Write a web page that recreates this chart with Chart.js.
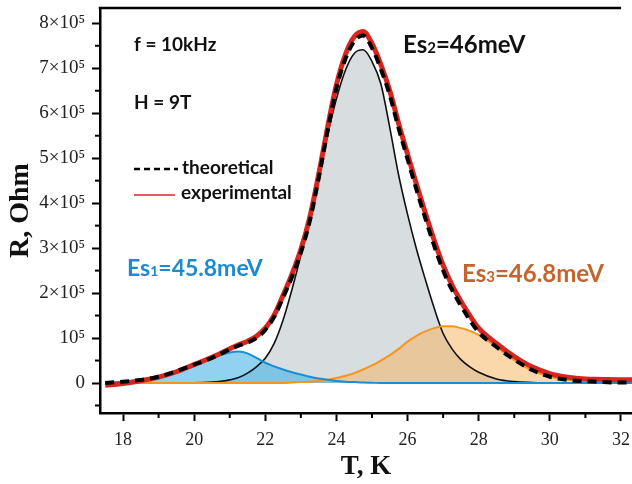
<!DOCTYPE html>
<html><head><meta charset="utf-8">
<script src="https://cdn.jsdelivr.net/npm/chart.js@4"></script>
<style>html,body{margin:0;padding:0;background:#fff}canvas{display:block}</style>
</head><body>
<canvas id="c" width="632" height="484"></canvas>
<script>
// Temperature grid, K
const temperatureK = [17.5,18,18.5,19,19.5,20,20.25,20.5,20.75,21,21.25,21.5,21.75,22,22.25,22.5,22.75,23,23.25,23.5,23.75,24,24.25,24.5,24.75,25,25.25,25.5,25.75,26,26.25,26.5,26.75,27,27.25,27.5,27.75,28,28.5,29,29.5,30,30.5,31,31.5,32,32.5];
// Resistance in units of 10^5 Ohm
const theoretical = [0.0,0.03,0.07,0.14,0.26,0.41,0.48,0.56,0.65,0.75,0.83,0.9,1.0,1.18,1.47,1.9,2.36,2.9,3.6,4.55,5.6,6.55,7.2,7.6,7.73,7.45,6.98,6.4,5.66,4.98,4.3,3.66,3.05,2.5,2.07,1.72,1.4,1.13,0.8,0.52,0.29,0.14,0.07,0.04,0.02,0.01,0.01];
const experimental = [-0.05,-0.01,0.05,0.13,0.25,0.41,0.49,0.57,0.66,0.76,0.85,0.93,1.04,1.22,1.51,1.95,2.42,2.97,3.68,4.63,5.68,6.63,7.3,7.7,7.82,7.55,7.08,6.5,5.77,5.09,4.42,3.78,3.17,2.62,2.18,1.82,1.5,1.22,0.88,0.59,0.36,0.21,0.13,0.09,0.08,0.07,0.07];
const es1Component = [0.005,0.03,0.07,0.14,0.25,0.4,0.47,0.55,0.62,0.68,0.70,0.66,0.56,0.45,0.37,0.30,0.24,0.19,0.14,0.10,0.07,0.045,0.03,0.02,0.01,0.005,0,0,0,0,0,0,0,0,0,0,0,0,0,0,0,0,0,0,0,0,0];
const es2Component = [0,0,0,0,0.002,0.005,0.01,0.02,0.04,0.07,0.12,0.22,0.36,0.55,0.88,1.4,2.08,2.84,3.7,4.61,5.51,6.32,6.95,7.33,7.41,7.15,6.65,5.68,4.62,3.75,2.98,2.3,1.66,1.1,0.76,0.52,0.36,0.24,0.09,0.03,0.01,0,0,0,0,0,0];
const es3Component = [0,0,0,0,0,0,0,0,0,0,0,0,0,0,0,0,0.01,0.02,0.03,0.045,0.07,0.11,0.16,0.22,0.30,0.39,0.50,0.62,0.76,0.92,1.05,1.15,1.22,1.26,1.26,1.22,1.16,1.07,0.8,0.51,0.28,0.14,0.07,0.04,0.02,0.01,0.01];
// Tick labels
const yTickValues = [0,1,2,3,4,5,6,7,8];
const yTickLabels = ['0','10\u2075','2\u00d710\u2075','3\u00d710\u2075','4\u00d710\u2075','5\u00d710\u2075','6\u00d710\u2075','7\u00d710\u2075','8\u00d710\u2075'];
const xMinorTicks = [19,21,23,25,27,29,31];
const yMinorTicks = [-0.5,0.5,1.5,2.5,3.5,4.5,5.5,6.5,7.5];
const seriesNames = ['theoretical','experimental','Es1=45.8meV','Es3=46.8meV','Es2=46meV'];

const pts = arr => temperatureK.map((t,i)=>({x:t,y:arr[i]}));
const SERIF = '"Liberation Serif","Times New Roman",serif';
const SANS = 'Lato, "Open Sans", sans-serif';

const extras = {
  id:'extras',
  afterDraw(chart){
    const ctx = chart.ctx, xs = chart.scales.x, ys = chart.scales.y, area = chart.chartArea;
    ctx.save();
    // top frame line
    ctx.strokeStyle = '#000'; ctx.lineWidth = 2.5;
    ctx.beginPath(); ctx.moveTo(area.left - 1.25, area.top); ctx.lineTo(xs.getPixelForValue(32), area.top); ctx.stroke();
    // minor ticks
    ctx.lineWidth = 2;
    xMinorTicks.forEach(v=>{const p=xs.getPixelForValue(v);ctx.beginPath();ctx.moveTo(p,xs.top);ctx.lineTo(p,xs.top+5);ctx.stroke();});
    yMinorTicks.forEach(v=>{const p=ys.getPixelForValue(v);ctx.beginPath();ctx.moveTo(ys.right,p);ctx.lineTo(ys.right-5,p);ctx.stroke();});
    // text annotations
    ctx.fillStyle = '#111';
    ctx.textBaseline = 'middle'; ctx.textAlign = 'left';
    ctx.font = 'bold 19px ' + SANS;
    ctx.fillText('f = 10kHz', 134, 45);
    ctx.fillText('H = 9T', 134, 103);
    ctx.fillText('theoretical', 182, 168);
    ctx.fillText('experimental', 181, 193);
    // legend samples
    ctx.strokeStyle = '#000'; ctx.lineWidth = 2.5; ctx.setLineDash([6,4]);
    ctx.beginPath(); ctx.moveTo(134,169); ctx.lineTo(178,169); ctx.stroke();
    ctx.setLineDash([]);
    ctx.strokeStyle = '#d0282a'; ctx.lineWidth = 1.5;
    ctx.beginPath(); ctx.moveTo(134,195); ctx.lineTo(175,195); ctx.stroke();
    // Es labels with subscripts
    const esLabel = (sub, rest, x, y, size, color) => {
      ctx.fillStyle = color; ctx.textBaseline = 'alphabetic';
      ctx.font = 'bold ' + size + 'px ' + SANS;
      ctx.fillText('Es', x, y); let w = ctx.measureText('Es').width;
      ctx.font = 'bold ' + Math.round(size*0.62) + 'px ' + SANS;
      ctx.fillText(sub, x+w, y); w += ctx.measureText(sub).width;
      ctx.font = 'bold ' + size + 'px ' + SANS;
      ctx.fillText(rest, x+w, y);
    };
    esLabel('2', '=46meV', 403, 53, 24, '#111');
    esLabel('1', '=45.8meV', 127, 276, 23, '#1a8ad2');
    esLabel('3', '=46.8meV', 462, 282, 24, '#c4642c');
    ctx.restore();
  }
};

new Chart(document.getElementById('c'), {
  type:'line',
  data:{datasets:[
    {label:seriesNames[0], data:pts(theoretical), borderColor:'#000', borderWidth:4, borderDash:[9,6], fill:false},
    {label:seriesNames[1], data:pts(experimental), borderColor:'#d7261e', borderWidth:5, fill:false},
    {label:seriesNames[2], data:pts(es1Component), borderColor:'#1590d6', borderWidth:2, fill:'origin', backgroundColor:'rgba(70,180,228,0.6)'},
    {label:seriesNames[3], data:pts(es3Component), borderColor:'#f7941d', borderWidth:2, fill:'origin', backgroundColor:'rgba(247,177,89,0.5)'},
    {label:seriesNames[4], data:pts(es2Component), borderColor:'#111', borderWidth:1.6, fill:'origin', backgroundColor:'#d8dde0'}
  ]},
  options:{
    responsive:false, animation:false, devicePixelRatio:1,
    layout:{padding:{top:8,right:0,left:0,bottom:0}},
    elements:{point:{radius:0}, line:{cubicInterpolationMode:'monotone'}},
    plugins:{legend:{display:false}, tooltip:{enabled:false}, filler:{drawTime:'beforeDatasetsDraw'}},
    scales:{
      x:{type:'linear', position:'bottom', min:17.353, max:32.31,
        afterFit:s=>{s.height=71; s.paddingLeft=0; s.paddingRight=0;},
        ticks:{stepSize:2, includeBounds:false, color:'#222', padding:8, maxRotation:0, font:{family:SERIF,size:18}},
        grid:{drawOnChartArea:false, drawTicks:true, tickLength:8, tickWidth:2, tickColor:'#000'},
        border:{display:true, color:'#000', width:2.5},
        title:{display:true, text:'T, K', color:'#111', font:{family:SERIF,size:27,weight:'bold'}, padding:{top:0,bottom:1}}
      },
      y:{type:'linear', position:'left', min:-0.667, max:8.34,
        afterFit:s=>{s.width=100; s.paddingTop=0; s.paddingBottom=0;},
        ticks:{stepSize:1, includeBounds:false, color:'#222', padding:7, font:{family:SERIF,size:19},
          callback:v=>{const i=yTickValues.indexOf(v);return i>=0?yTickLabels[i]:'';}},
        grid:{drawOnChartArea:false, drawTicks:true, tickLength:8, tickWidth:2, tickColor:'#000'},
        border:{display:true, color:'#000', width:2.5},
        title:{display:true, text:'R, Ohm', color:'#111', font:{family:SERIF,size:28,weight:'bold'}, padding:{top:4,bottom:0}}
      }
    }
  },
  plugins:[extras]
});
</script>
</body></html>
